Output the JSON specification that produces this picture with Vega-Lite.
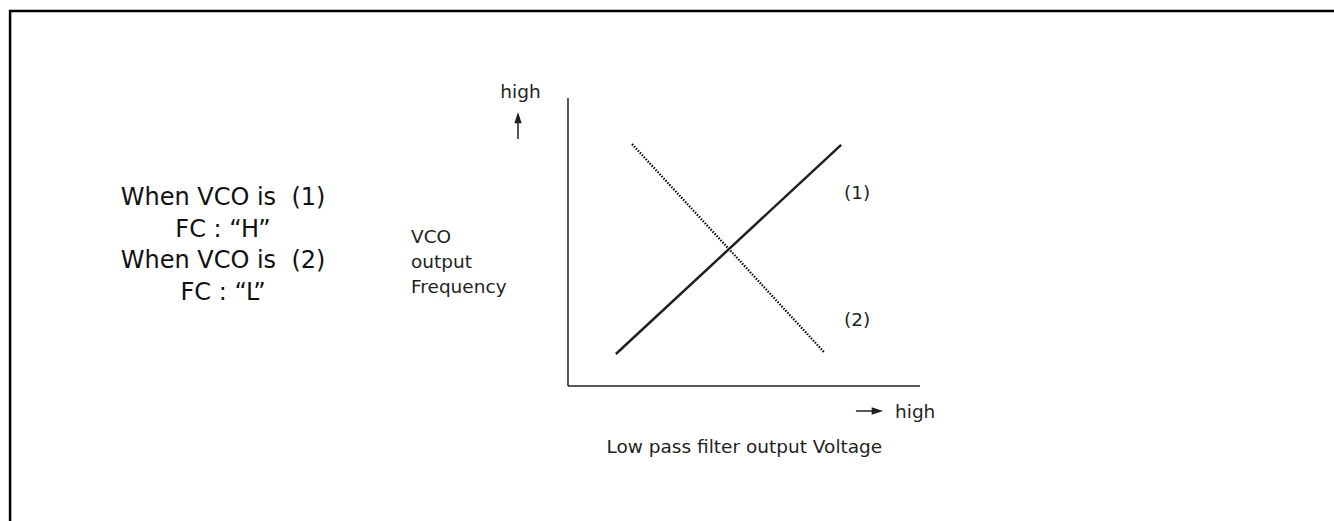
{
  "$schema": "https://vega.github.io/schema/vega-lite/v6.json",
  "width": 1334,
  "height": 521,
  "padding": 0,
  "autosize": {"type": "none"},
  "background": "white",
  "config": {"view": {"stroke": null}},
  "datasets": {
    "segs": [
      {"kind": "border", "x": -158.8, "y": 130.2, "x2": 220, "y2": 130.2},
      {"kind": "border", "x": -158.5, "y": 130.5, "x2": -158.5, "y2": -50},
      {"kind": "axis", "x": 0, "y": 0, "x2": 0, "y2": 100},
      {"kind": "axis", "x": 0, "y": 0, "x2": 100, "y2": 0},
      {"kind": "vco1", "x": 13.6, "y": 11.1, "x2": 77.6, "y2": 83.7},
      {"kind": "vco2", "x": 18.2, "y": 84.0, "x2": 72.7, "y2": 11.8},
      {"kind": "arrow", "x": -14.2, "y": 85.8, "x2": -14.2, "y2": 92.5},
      {"kind": "arrow", "x": 81.8, "y": -8.68, "x2": 87.0, "y2": -8.68}
    ],
    "heads": [
      {"dir": "up", "x": -14.2, "y": 93.2},
      {"dir": "right", "x": 87.9, "y": -8.68}
    ],
    "texts": [
      {"group": "left", "label": "When VCO is\u00a0 (1)", "x": -98.0, "y": 62.85},
      {"group": "left", "label": "FC : \u201cH\u201d", "x": -98.0, "y": 51.84},
      {"group": "left", "label": "When VCO is\u00a0 (2)", "x": -98.0, "y": 40.87},
      {"group": "left", "label": "FC : \u201cL\u201d", "x": -98.0, "y": 29.86},
      {"group": "lab", "label": "VCO", "x": -44.6, "y": 49.55},
      {"group": "lab", "label": "output", "x": -44.6, "y": 40.87},
      {"group": "lab", "label": "Frequency", "x": -44.6, "y": 32.19},
      {"group": "lab", "label": "(1)", "x": 78.4, "y": 64.9},
      {"group": "lab", "label": "(2)", "x": 78.4, "y": 20.8},
      {"group": "lab", "label": "high", "x": 92.9, "y": -11.11},
      {"group": "mid", "label": "high", "x": -13.5, "y": 100.0},
      {"group": "mid", "label": "Low pass filter output Voltage", "x": 50.1, "y": -23.16}
    ]
  },
  "encoding": {
    "x": {"field": "x", "type": "quantitative", "axis": null, "scale": {"domain": [-161.36, 217.61], "nice": false, "zero": false}},
    "y": {"field": "y", "type": "quantitative", "axis": null, "scale": {"domain": [-46.875, 134.03], "nice": false, "zero": false}}
  },
  "layer": [
    {
      "data": {"name": "segs"},
      "transform": [{"filter": "datum.kind === 'border'"}],
      "mark": {"type": "rule", "color": "#000000", "strokeWidth": 2.5, "clip": false},
      "encoding": {"x2": {"field": "x2"}, "y2": {"field": "y2"}}
    },
    {
      "data": {"name": "segs"},
      "transform": [{"filter": "datum.kind === 'axis'"}],
      "mark": {"type": "rule", "color": "#231f20", "strokeWidth": 1.5},
      "encoding": {"x2": {"field": "x2"}, "y2": {"field": "y2"}}
    },
    {
      "data": {"name": "segs"},
      "transform": [{"filter": "datum.kind === 'vco1'"}],
      "mark": {"type": "rule", "color": "#231f20", "strokeWidth": 2.5},
      "encoding": {"x2": {"field": "x2"}, "y2": {"field": "y2"}}
    },
    {
      "data": {"name": "segs"},
      "transform": [{"filter": "datum.kind === 'vco2'"}],
      "mark": {"type": "rule", "color": "#000000", "strokeWidth": 2.3, "strokeDash": [1.4, 1.5]},
      "encoding": {"x2": {"field": "x2"}, "y2": {"field": "y2"}}
    },
    {
      "data": {"name": "segs"},
      "transform": [{"filter": "datum.kind === 'arrow'"}],
      "mark": {"type": "rule", "color": "#231f20", "strokeWidth": 1.5},
      "encoding": {"x2": {"field": "x2"}, "y2": {"field": "y2"}}
    },
    {
      "data": {"name": "heads"},
      "transform": [{"filter": "datum.dir === 'up'"}],
      "mark": {"type": "point", "shape": "M0,-1L0.64,1L-0.64,1Z", "size": 130, "filled": true, "color": "#231f20", "opacity": 1}
    },
    {
      "data": {"name": "heads"},
      "transform": [{"filter": "datum.dir === 'right'"}],
      "mark": {"type": "point", "shape": "M1,0L-1,0.64L-1,-0.64Z", "size": 130, "filled": true, "color": "#231f20", "opacity": 1}
    },
    {
      "data": {"name": "texts"},
      "transform": [{"filter": "datum.group === 'left'"}],
      "mark": {"type": "text", "font": "DejaVu Sans", "fontSize": 24, "align": "center", "baseline": "alphabetic", "color": "#111111"},
      "encoding": {"text": {"field": "label"}}
    },
    {
      "data": {"name": "texts"},
      "transform": [{"filter": "datum.group === 'lab'"}],
      "mark": {"type": "text", "font": "DejaVu Sans", "fontSize": 18.5, "align": "left", "baseline": "alphabetic", "color": "#231f20"},
      "encoding": {"text": {"field": "label"}}
    },
    {
      "data": {"name": "texts"},
      "transform": [{"filter": "datum.group === 'mid'"}],
      "mark": {"type": "text", "font": "DejaVu Sans", "fontSize": 18.5, "align": "center", "baseline": "alphabetic", "color": "#231f20"},
      "encoding": {"text": {"field": "label"}}
    }
  ]
}
